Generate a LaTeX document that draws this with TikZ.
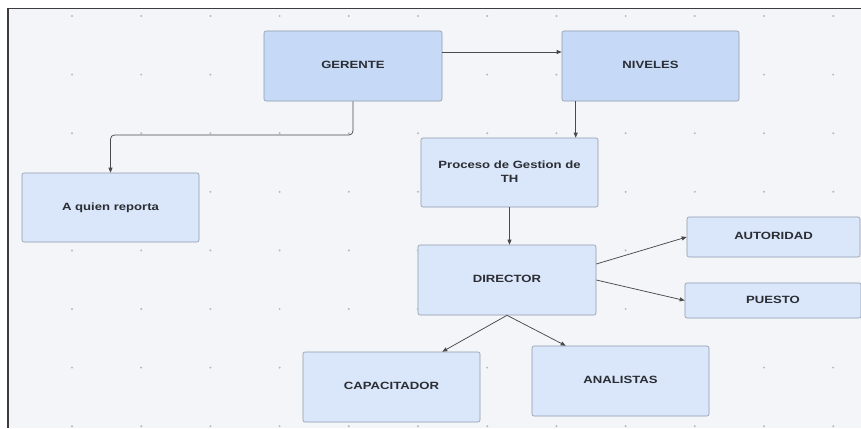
\documentclass[tikz,border=0pt]{standalone}
\usepackage{fontspec}
\setmainfont{Liberation Sans}
\usetikzlibrary{arrows.meta}

\definecolor{canvas}{HTML}{F3F5F8}
\definecolor{framecol}{HTML}{3C3C3C}
\definecolor{gridcol}{HTML}{B4B8BF}
\definecolor{boxdark}{HTML}{C6D9F7}
\definecolor{boxlight}{HTML}{DAE6F9}
\definecolor{boxedge}{HTML}{8F9BAD}
\definecolor{txtcol}{HTML}{2A2D33}
\definecolor{linkcol}{HTML}{4A4A4A}

% wide bold labels
\newcommand{\wlbl}[1]{\scalebox{1.25}[1]{\fontsize{10.5}{14}\selectfont\bfseries
  \begin{tabular}{@{}c@{}}#1\end{tabular}}}

\begin{document}
\begin{tikzpicture}[x=1pt,y=-1pt,
  card/.style={draw=boxedge, line width=0.6pt, rounded corners=2pt,
    fill=boxlight, text=txtcol, align=center, inner sep=0pt},
  cardhi/.style={card, fill=boxdark},
  link/.style={draw=linkcol, line width=0.75pt,
    -{Triangle[length=5pt,width=4pt]}}]

\useasboundingbox (0,0) rectangle (861,428);
\fill[white] (0,0) rectangle (861,428);
\fill[canvas] (8,8.5) rectangle (861,428);
\draw[framecol, line width=1.6pt] (8,428) -- (8,8.5) -- (861,8.5);

% dotted grid
\foreach \i in {0,...,11}
  \foreach \j in {0,...,7}
    \fill[gridcol] ({72+69.2*\i},{16+58.6*\j}) circle (1.1pt);

% boxes
\node[cardhi, minimum width=178pt, minimum height=70pt] (GER) at (353,66) {\wlbl{GERENTE}};
\node[cardhi, minimum width=177pt, minimum height=70pt] (NIV) at (650.5,66) {\wlbl{NIVELES}};
\node[card, minimum width=177pt, minimum height=69pt] (PROC) at (509.5,172.5)
  {\wlbl{Proceso de Gestion de\\TH}};
\node[card, minimum width=177pt, minimum height=69pt] (AQR) at (110.5,207.5) {\wlbl{A quien reporta}};
\node[card, minimum width=178pt, minimum height=70pt] (DIR) at (507,280) {\wlbl{DIRECTOR}};
\node[card, minimum width=173pt, minimum height=40pt] (AUT) at (773.5,237) {\wlbl{AUTORIDAD}};
\node[card, minimum width=176pt, minimum height=35pt] (PUE) at (773,300.5) {\wlbl{PUESTO}};
\node[card, minimum width=177pt, minimum height=70pt] (CAP) at (391.5,387) {\wlbl{CAPACITADOR}};
\node[card, minimum width=177pt, minimum height=70pt] (ANA) at (620.5,381) {\wlbl{ANALISTAS}};

% connectors
\coordinate (bend) at (110.5,135);
\draw[link, rounded corners=4pt] (GER.south) |- (bend) -- (AQR.north);
\draw[link] ([yshift=14pt]GER.east) -- ([yshift=14pt]NIV.west);
\draw[link] ([xshift=14pt]NIV.south west) -- ([xshift=14pt]NIV.south west |- PROC.north);
\draw[link] (PROC.south) -- (PROC.south |- DIR.north);
\draw[link] ([yshift=16pt]DIR.east) -- (AUT.west);
\draw[link] (DIR.east) -- (PUE.west);
\draw[link] (DIR.south) -- ([xshift=-38pt]CAP.north east);
\draw[link] (DIR.south) -- ([xshift=34pt]ANA.north west);
\end{tikzpicture}
\end{document}
